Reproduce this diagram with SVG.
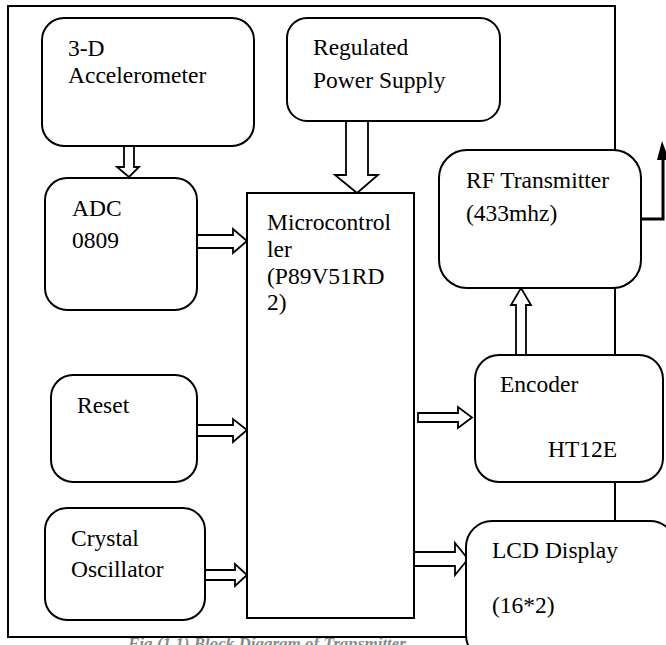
<svg xmlns="http://www.w3.org/2000/svg" width="666" height="645" viewBox="0 0 666 645">
<style>
.box{fill:#fff;stroke:#000;stroke-width:2}
.ln{fill:none;stroke:#000;stroke-width:2}
.ar{fill:#fff;stroke:#000;stroke-width:1.8;stroke-linejoin:miter}
.t{font-family:'Liberation Serif','DejaVu Serif',serif;font-size:23.5px;fill:#000}
.cap{font-family:'Liberation Serif','DejaVu Serif',serif;font-size:17px;font-weight:bold;font-style:italic;fill:#8a8a8a}
</style>
<rect width="666" height="645" fill="#fff"/>
<text class="cap" x="128" y="649">Fig (1.1) Block Diagram of Transmitter</text>
<g id="frame">
<path class="ln" d="M615 150 V6 H8 V637 H470"/>
</g>
<g id="connectors">
<path class="ln" d="M615 288 V355"/>
<path class="ln" d="M615 482 V521"/>
<path class="ar" d="M124 146 V167 H117 L129 177 L139 167 H134 V146 Z"/>
<path class="ar" d="M346 121 V175 H335 L357 193 L378 175 H368 V121 Z"/>
<path class="ar" d="M197 235 H233 V229 L247 241 L233 253 V248 H197 Z"/>
<path class="ar" d="M197 425 H233 V419 L247 430 L233 442 V436 H197 Z"/>
<path class="ar" d="M205 570 H235 V564 L247 575 L235 586 V580 H205 Z"/>
<path class="ar" d="M418 413 H458 V407 L472 417.5 L458 428 V422 H418 Z"/>
<path class="ar" d="M414 552 H455 V543 L468 559 L455 575 V566 H414 Z"/>
<path class="ar" d="M516 355 V305 H511 L521 288 L531 305 H526 V355 Z"/>
<path fill="none" stroke="#000" stroke-width="3" d="M641 219 H663 V158"/>
<path fill="#000" d="M657 160 L662 141 L669 160 Z"/>
</g>
<g id="accelerometer">
<rect class="box" x="42" y="18" width="212" height="128" rx="22"/>
<text class="t" x="68" y="56">3-D</text>
<text class="t" x="68" y="83">Accelerometer</text>
</g>
<g id="power">
<rect class="box" x="287" y="18" width="213" height="103" rx="20"/>
<text class="t" x="313" y="55">Regulated</text>
<text class="t" x="313" y="88">Power Supply</text>
</g>
<g id="adc">
<rect class="box" x="45" y="178" width="152" height="132" rx="22"/>
<text class="t" x="72" y="216">ADC</text>
<text class="t" x="72" y="248">0809</text>
</g>
<g id="micro">
<rect class="box" x="247" y="193" width="167" height="425"/>
<text class="t" x="267" y="230">Microcontrol</text>
<text class="t" x="267" y="257">ler</text>
<text class="t" x="267" y="284">(P89V51RD</text>
<text class="t" x="267" y="310">2)</text>
</g>
<g id="reset">
<rect class="box" x="51" y="375" width="146" height="107" rx="22"/>
<text class="t" x="77" y="413">Reset</text>
</g>
<g id="crystal">
<rect class="box" x="45" y="508" width="160" height="112" rx="22"/>
<text class="t" x="71" y="546">Crystal</text>
<text class="t" x="71" y="577">Oscillator</text>
</g>
<g id="rf">
<rect class="box" x="439" y="150" width="202" height="138" rx="28"/>
<text class="t" x="466" y="188">RF Transmitter</text>
<text class="t" x="466" y="221">(433mhz)</text>
</g>
<g id="encoder">
<rect class="box" x="475" y="355" width="188" height="127" rx="24"/>
<text class="t" x="500" y="392">Encoder</text>
<text class="t" x="548" y="457">HT12E</text>
</g>
<g id="lcd">
<rect class="box" x="466" y="521" width="210" height="140" rx="26"/>
<text class="t" x="492" y="558">LCD Display</text>
<text class="t" x="492" y="613">(16*2)</text>
</g>
</svg>
